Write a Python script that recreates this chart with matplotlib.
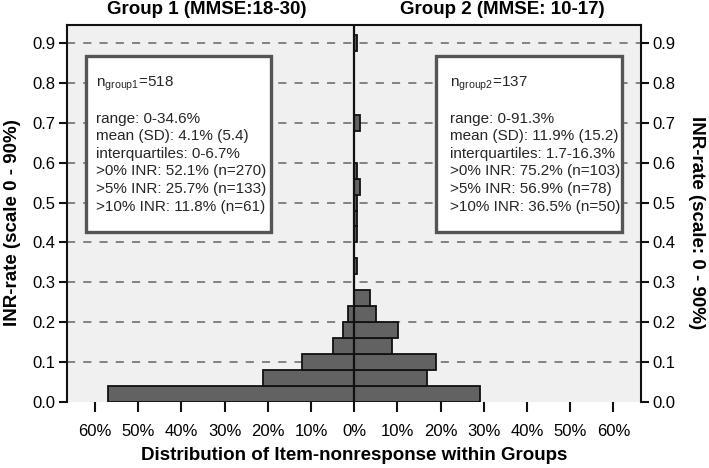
import numpy as np
import matplotlib
matplotlib.use("Agg")
import matplotlib.pyplot as plt
from matplotlib.patches import Rectangle
from matplotlib.ticker import FuncFormatter

plt.rcParams['font.family'] = ['Liberation Sans', 'DejaVu Sans']
plt.rcParams['mathtext.fontset'] = 'custom'
plt.rcParams['mathtext.rm'] = 'Liberation Sans'
plt.rcParams['mathtext.it'] = 'Liberation Sans'

# INR-rate bins (lower edge), width 0.04
bin_width = 0.04
bin_edges = [round(i * bin_width, 2) for i in range(23)]

# percent of group per bin
group1_pct = [56.9, 21.2, 12.0, 4.8, 2.5, 1.35, 0, 0, 0, 0, 0, 0,
              0, 0, 0, 0, 0, 0, 0, 0, 0, 0, 0]
group2_pct = [29.2, 16.8, 19.0, 8.8, 10.2, 5.1, 3.6, 0, 0.73, 0, 0.73, 0.73,
              0.73, 1.46, 0.73, 0, 0, 1.46, 0, 0, 0, 0, 0.73]

x_ticks = [-60, -50, -40, -30, -20, -10, 0, 10, 20, 30, 40, 50, 60]
y_ticks = [0.0, 0.1, 0.2, 0.3, 0.4, 0.5, 0.6, 0.7, 0.8, 0.9]

group1_title = "Group 1 (MMSE:18-30)"
group2_title = "Group 2 (MMSE: 10-17)"
group1_lines = [r"n$_{\mathrm{group1}}$=518", "",
                "range: 0-34.6%", "mean (SD): 4.1% (5.4)", "interquartiles: 0-6.7%",
                ">0% INR: 52.1% (n=270)", ">5% INR: 25.7% (n=133)", ">10% INR: 11.8% (n=61)"]
group2_lines = [r"n$_{\mathrm{group2}}$=137", "",
                "range: 0-91.3%", "mean (SD): 11.9% (15.2)", "interquartiles: 1.7-16.3%",
                ">0% INR: 75.2% (n=103)", ">5% INR: 56.9% (n=78)", ">10% INR: 36.5% (n=50)"]

fig = plt.figure(figsize=(7.09, 4.68), dpi=100)
ax = fig.add_axes([0.0938, 0.1417, 0.8103, 0.8049])
ax.set_facecolor('#f0f0f0')

ax.set_xlim(-66.6, 66.4)
ax.set_ylim(0, 0.946)

for y in y_ticks[1:]:
    ax.axhline(y, color='#7a7a7a', lw=1.3, ls=(0, (4.5, 4.5)), zorder=1)

edges = np.array(bin_edges)
g1 = np.array(group1_pct)
g2 = np.array(group2_pct)
m1 = g1 > 0
m2 = g2 > 0
ax.barh(edges[m1], -g1[m1], height=bin_width, align='edge',
        color='#626262', edgecolor='#111111', lw=1.3, zorder=3)
ax.barh(edges[m2], g2[m2], height=bin_width, align='edge',
        color='#626262', edgecolor='#111111', lw=1.3, zorder=3)
ax.axvline(0, color='#111111', lw=1.6, zorder=4)

# statistics boxes
for x0, x1, lines, tx in [(-62.0, -19.2, group1_lines, -59.7),
                          (19.0, 62.0, group2_lines, 22.1)]:
    ax.add_patch(Rectangle((x0, 0.425), x1 - x0, 0.867 - 0.425, facecolor='white',
                           edgecolor='#555555', lw=2.4, zorder=5))
    ys = [0.798, 0.755, 0.71, 0.666, 0.622, 0.579, 0.534, 0.49]
    for line, yy in zip(lines, ys):
        if line:
            ax.text(tx, yy, line, fontsize=11, color='#262626',
                    va='center', ha='left', zorder=6)

ax.set_xticks(x_ticks)
ax.xaxis.set_major_formatter(FuncFormatter(lambda v, p: f"{abs(int(round(v)))}%"))
ax.set_yticks(y_ticks)
ax.yaxis.set_major_formatter(FuncFormatter(lambda v, p: f"{v:.1f}"))
ax.tick_params(axis='x', length=7, width=1.5, labelsize=12, pad=9, color='#111111')
ax.tick_params(axis='y', length=6, width=1.5, labelsize=12, pad=2, color='#111111',
               left=True, right=True, labelleft=True, labelright=True)

for side in ['left', 'right', 'top']:
    ax.spines[side].set_linewidth(1.5)
    ax.spines[side].set_color('#111111')
ax.spines['bottom'].set_visible(False)

fig.text(354 / 709, 1 - 456 / 468, "Distribution of Item-nonresponse within Groups",
         fontsize=13.5, fontweight='bold', ha='center', va='center')
fig.text(0.017, 0.525, "INR-rate (scale 0 - 90%)", rotation=90, fontsize=13.5,
         fontweight='bold', ha='center', va='center')
fig.text(0.983, 0.525, "INR-rate (scale: 0 - 90%)", rotation=270, fontsize=13.5,
         fontweight='bold', ha='center', va='center')

fig.text(207 / 709, 1 - 10 / 468, group1_title, fontsize=13.5, fontweight='bold',
         ha='center', va='center')
fig.text(502 / 709, 1 - 10 / 468, group2_title, fontsize=13.5, fontweight='bold',
         ha='center', va='center')

fig.savefig("out.png", dpi=100)
